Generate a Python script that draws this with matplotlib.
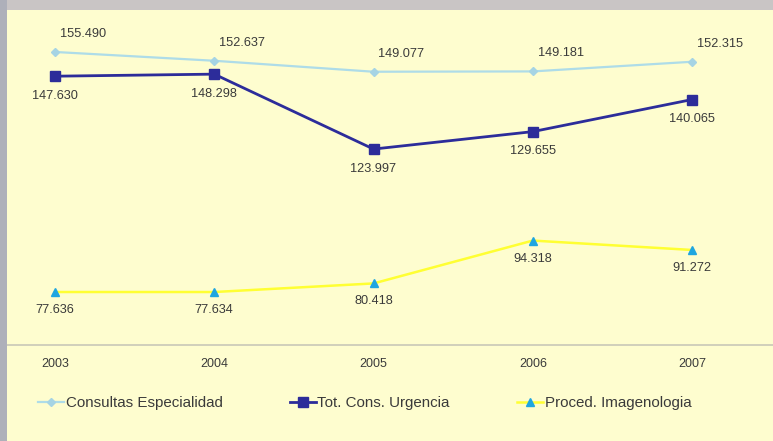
import matplotlib.pyplot as plt
from matplotlib.patches import Rectangle

years = ['2003', '2004', '2005', '2006', '2007']
consultas = [155.490, 152.637, 149.077, 149.181, 152.315]
urgencia = [147.630, 148.298, 123.997, 129.655, 140.065]
imagen = [77.636, 77.634, 80.418, 94.318, 91.272]

plt.rcParams['font.family'] = ['Liberation Sans', 'DejaVu Sans']

bg = '#FEFDCF'
txt = '#3A3A3A'
fig = plt.figure(figsize=(7.73, 4.41), dpi=100, facecolor=bg)

# grey / bluish frame strips at top and left
fig.patches.append(Rectangle((0, 1 - 10 / 441), 1, 10 / 441, transform=fig.transFigure,
                             facecolor='#C9C5C5', edgecolor='none', zorder=0))
fig.patches.append(Rectangle((0, 0), 7 / 773, 1, transform=fig.transFigure,
                             facecolor='#AEB0BA', edgecolor='none', zorder=0))

ax = fig.add_axes([7 / 773, 96 / 441, 766 / 773, 335 / 441])
ax.set_facecolor('none')

x = range(len(years))
ax.plot(x, consultas, color='#AEDCE8', lw=1.6, marker='D', ms=4,
        markerfacecolor='#A6D4E4', markeredgecolor='#A6D4E4',
        label='Consultas Especialidad')
ax.plot(x, urgencia, color='#2C2C9A', lw=2, marker='s', ms=6.8,
        label='Tot. Cons. Urgencia')
ax.plot(x, imagen, color='#FFFF33', lw=1.8, marker='^', ms=5.5,
        markerfacecolor='#1FA6E0', markeredgecolor='#1FA6E0',
        label='Proced. Imagenologia')

def fmt(v):
    return f'{v:.3f}'

for i, v in enumerate(consultas):
    ax.annotate(fmt(v), (i, v), xytext=(20, 13), textcoords='offset points',
                ha='center', va='center', fontsize=9.2, color=txt)
for i, v in enumerate(urgencia):
    ax.annotate(fmt(v), (i, v), xytext=(0, -14), textcoords='offset points',
                ha='center', va='center', fontsize=9.2, color=txt)
for i, v in enumerate(imagen):
    ax.annotate(fmt(v), (i, v), xytext=(0, -13), textcoords='offset points',
                ha='center', va='center', fontsize=9.2, color=txt)

ax.set_xlim(-48 / 159.5, 4 + 81 / 159.5)
ax.set_ylim(60.45, 169.1)
ax.set_xticks(list(x))
ax.set_xticklabels(years, fontsize=9, color=txt)
ax.tick_params(axis='x', length=0, pad=9.5)
ax.set_yticks([])
for s in ['top', 'right', 'left']:
    ax.spines[s].set_visible(False)
ax.spines['bottom'].set_color('#C8C8B8')
ax.spines['bottom'].set_linewidth(1.2)

fig.legend(loc='center left', bbox_to_anchor=(38 / 773, 38 / 441), ncol=3,
           frameon=False, fontsize=10.9, borderpad=0, borderaxespad=0,
           handlelength=1.7, handletextpad=0.12, columnspacing=4.45,
           labelcolor=txt)

plt.savefig('out.png', dpi=100, facecolor=bg)
